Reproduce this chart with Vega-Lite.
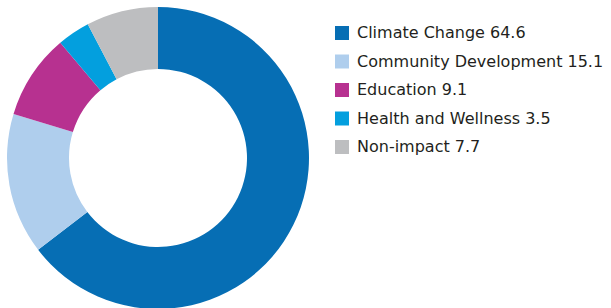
{
  "$schema": "https://vega.github.io/schema/vega-lite/v6.json",
  "width": 316,
  "height": 316,
  "padding": 0,
  "background": "white",
  "data": {
    "values": [
      {"category": "Climate Change", "value": 64.6},
      {"category": "Community Development", "value": 15.1},
      {"category": "Education", "value": 9.1},
      {"category": "Health and Wellness", "value": 3.5},
      {"category": "Non-impact", "value": 7.7}
    ]
  },
  "transform": [
    {"calculate": "datum.category + ' ' + format(datum.value, '.1f')", "as": "label"}
  ],
  "mark": {"type": "arc", "outerRadius": 151, "innerRadius": 89},
  "encoding": {
    "theta": {"field": "value", "type": "quantitative", "stack": true},
    "order": {"field": "category"},
    "color": {
      "field": "label",
      "type": "nominal",
      "scale": {
        "range": ["#066EB4", "#AFCEED", "#B73190", "#039FDE", "#BDBEC0"]
      },
      "legend": {
        "title": null,
        "orient": "none",
        "legendX": 334,
        "legendY": 25,
        "padding": 0,
        "symbolType": "square",
        "symbolSize": 196,
        "symbolStrokeWidth": 0,
        "symbolOpacity": 1,
        "labelFont": "DejaVu Sans",
        "labelFontSize": 16,
        "labelColor": "#231F20",
        "labelOffset": 7,
        "rowPadding": 12.5,
        "labelLimit": 400
      }
    }
  },
  "config": {"view": {"stroke": null}}
}
